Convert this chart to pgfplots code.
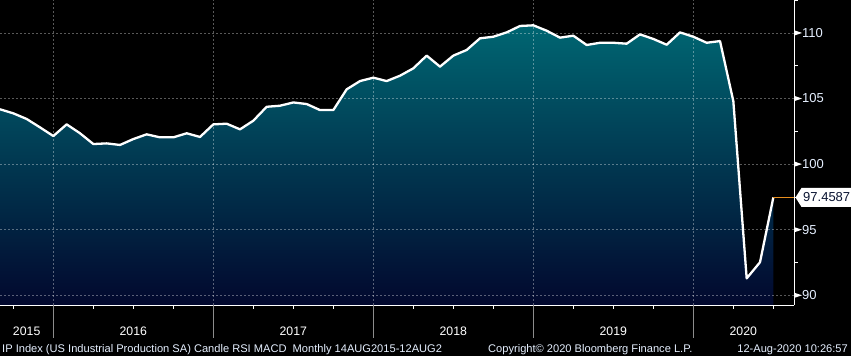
\documentclass[border=0pt]{standalone}
\usepackage{pgfplots}
\pgfplotsset{compat=1.18}
\usepackage{pgfplotstable}
\usepackage{fontspec}
\setmainfont{Liberation Sans}
\definecolor{tealtop}{RGB}{0,102,114}
\definecolor{navybot}{RGB}{2,8,46}
\definecolor{sepc}{RGB}{140,140,140}
\definecolor{lbl}{RGB}{230,240,255}
\definecolor{lastorange}{RGB}{232,142,30}
\definecolor{boxtext}{RGB}{10,20,50}

\pgfplotstableread{
m v
-4 104.18
-3 103.87
-2 103.44
-1 102.80
0 102.14
1 103.03
2 102.35
3 101.53
4 101.58
5 101.46
6 101.91
7 102.27
8 102.04
9 102.04
10 102.35
11 102.07
12 103.03
13 103.08
14 102.65
15 103.31
16 104.37
17 104.45
18 104.70
19 104.58
20 104.12
21 104.12
22 105.70
23 106.33
24 106.59
25 106.33
26 106.74
27 107.30
28 108.27
29 107.43
30 108.27
31 108.70
32 109.59
33 109.71
34 110.04
35 110.53
36 110.58
37 110.17
38 109.64
39 109.79
40 109.08
41 109.25
42 109.25
43 109.18
44 109.89
45 109.54
46 109.10
47 110.04
48 109.71
49 109.25
50 109.38
51 104.80
52 91.29
53 92.52
54 97.4587
}\ipdata

\begin{document}
\begin{tikzpicture}
\fill[black] (0,0) rectangle (851bp,356bp);
\begin{axis}[
  at={(0,51bp)}, anchor=south west,
  scale only axis, width=794bp, height=305bp,
  xmin=-4, xmax=55.55, ymin=89.26, ymax=112.51,
  axis x line*=bottom, axis y line*=right,
  axis line style={white, line width=0.9bp},
  clip mode=individual,
  xtick={-2,6,18,30,42,51.75},
  xticklabels={2015,2016,2017,2018,2019,2020},
  major tick length=0pt, minor tick length=3.5bp,
  tick align=outside,
  minor xtick={-3,3,6,9,15,18,21,27,30,33,39,42,45,51,54},
  minor ytick={92.5,97.5,102.5,107.5,112.5},
  every minor tick/.append style={white, line width=0.8bp},
  ytick={90,95,100,105,110},
  yticklabels={90,95,100,105,110},
  xticklabel style={anchor=base, inner sep=0pt, yshift=-30.7bp, font=\fontsize{12.3bp}{14bp}\selectfont, text=white},
  yticklabel style={anchor=west, inner sep=0pt, xshift=8bp, font=\fontsize{13bp}{15bp}\selectfont, text=lbl},
]
\addplot[draw=none, top color=tealtop, bottom color=navybot] table[x=m,y=v]{\ipdata} -- (axis cs:54,89.26) -- (axis cs:-4,89.26) -- cycle;
\pgfplotsinvokeforeach{0,12,24,36,48}{
  \draw[white, opacity=0.35, dash pattern=on 2bp off 2bp, line width=0.6bp] (axis cs:#1,89.26) -- (axis cs:#1,112.51);
  \coordinate (sep#1) at (axis cs:#1,89.26);
}
\pgfplotsinvokeforeach{90,95,100,105,110}{
  \draw[white, opacity=0.35, dash pattern=on 2bp off 2bp, line width=0.6bp] (axis cs:-4,#1) -- (axis cs:55.55,#1);
  \coordinate (yt#1) at (axis cs:55.55,#1);
}
\addplot[white, line width=2.3bp, line join=round] table[x=m,y=v]{\ipdata};
\addplot[lastorange, line width=1bp] coordinates {(54,97.4587) (55.55,97.4587)};
\coordinate (lastpt) at (axis cs:55.55,97.4587);
\end{axis}
\foreach \s in {0,12,24,36,48}{
  \draw[sepc, line width=0.8bp] (sep\s) -- ++(0,-33bp);
}
\foreach \t in {90,95,100,105,110}{
  \fill[white] (yt\t) ++(0,2.7bp) -- ++(8bp,-2.7bp) -- ++(-8bp,-2.7bp) -- cycle;
}
\fill[white] (lastpt) ++(1.5bp,0) -- ++(6bp,9.5bp) -- ++(50bp,0) -- ++(0,-19bp) -- ++(-50bp,0) -- cycle;
\node[anchor=west, inner sep=0pt, xshift=9bp, font=\fontsize{13bp}{15bp}\selectfont, text=boxtext] at (lastpt) {97.4587};
\begin{scope}[every node/.style={inner sep=0pt, text=lbl, font=\fontsize{11.1bp}{13bp}\selectfont}]
\node[anchor=base west] at (2bp,4bp) {IP Index (US Industrial Production SA) Candle RSI MACD\ \ Monthly 14AUG2015-12AUG2};
\node[anchor=base west] at (488bp,4bp) {Copyright© 2020 Bloomberg Finance L.P.};
\node[anchor=base east] at (848bp,4bp) {12-Aug-2020 10:26:57};
\end{scope}
\pgfresetboundingbox
\useasboundingbox (0,0) rectangle (851bp,356bp);
\end{tikzpicture}
\end{document}
